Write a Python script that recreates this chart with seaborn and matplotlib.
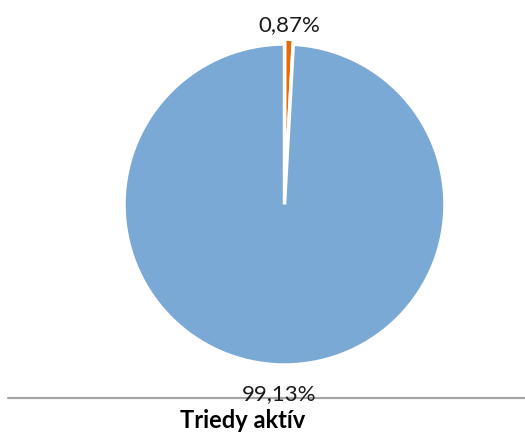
import matplotlib
matplotlib.use("Agg")
import matplotlib.pyplot as plt
import numpy as np
import seaborn as sns

# chart data
categories = ['Trieda A', 'Trieda B']
shares = [0.87, 99.13]
colors = ['#E46C0A', '#7BA9D6']
title = 'Triedy aktív'

sns.set_theme(style='white')
plt.rcParams['font.family'] = ['Lato', 'DejaVu Sans']

fig = plt.figure(figsize=(5.25, 4.34), dpi=100)
# axes placed so the pie sits where it is in the reference
ax = fig.add_axes([124 / 525, (434 - 365) / 434, 321 / 525, 321 / 434])

wedges, texts, autotexts = ax.pie(
    shares,
    colors=colors,
    startangle=90,
    counterclock=False,
    explode=[0.03, 0],
    autopct=lambda p: f"{p:.2f}%".replace('.', ','),
    pctdistance=1.12,
    wedgeprops={'edgecolor': 'white', 'linewidth': 2.5},
    textprops={'fontsize': 16, 'color': '#1a1a1a'},
)

# push each label out to its own distance from the centre
label_dist = [1.12, 1.18]
for w, t, d in zip(wedges, autotexts, label_dist):
    ang = np.deg2rad((w.theta1 + w.theta2) / 2)
    t.set_position((d * np.cos(ang), d * np.sin(ang)))
    t.set_zorder(5)

ax.set_xlim(-1, 1)
ax.set_ylim(-1, 1)
ax.set_aspect('equal')
ax.axis('off')

# gray separator line and bold title below
fig.add_artist(plt.Line2D([8 / 525, 1.0], [1 - 398 / 434] * 2,
                          color='#A6A6A6', linewidth=1.6, zorder=0))
fig.text(243 / 525, 1 - 420 / 434, title, ha='center', va='center',
         fontsize=17, fontweight='bold', color='#000000')

fig.savefig('out.png', dpi=100)
